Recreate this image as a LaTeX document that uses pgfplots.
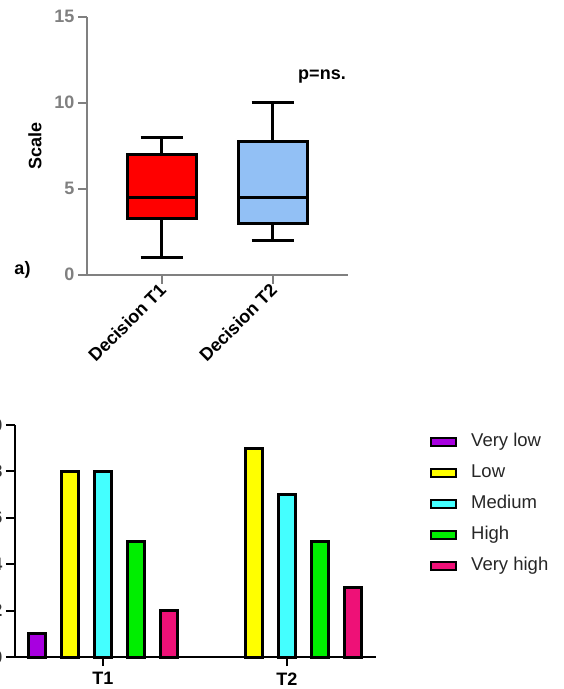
\documentclass[border=0pt]{standalone}
\usepackage{pgfplots}
\pgfplotsset{compat=1.18}
\usepgfplotslibrary{statistics}
\usepackage{fontspec}
\setmainfont{Liberation Sans}
\definecolor{axgray}{RGB}{128,128,128}
\definecolor{boxred}{RGB}{255,0,0}
\definecolor{boxblue}{RGB}{146,192,245}
\definecolor{cpurple}{RGB}{168,0,224}
\definecolor{cyellow}{RGB}{255,255,0}
\definecolor{ccyan}{RGB}{68,255,255}
\definecolor{cgreen}{RGB}{0,238,0}
\definecolor{cpink}{RGB}{238,17,119}
\newcommand{\bfs}{\fontsize{18}{21}\selectfont\bfseries}
\pgfplotsset{
  mybar/.style={ybar, bar width=0.094, draw=black, line width=3pt, fill=#1,
    legend image code/.code={\draw[##1,/tikz/.cd,line width=2pt] (0pt,1pt) rectangle (25pt,9pt);}},
}
\begin{document}
\begin{tikzpicture}[x=1pt,y=1pt]
% ---------- top: boxplot ----------
\begin{axis}[at={(87pt,414.3pt)}, anchor=south west, scale only axis,
  width=261pt, height=258pt,
  xmin=0.327, xmax=2.678, ymin=0, ymax=15,
  axis lines=left, axis line style={-, draw=axgray, line width=2pt},
  ytick={0,5,10,15}, xtick={1,2}, xticklabels={Decision T1, Decision T2},
  tick align=outside, major tick length=9pt,
  tick style={draw=axgray, line width=2pt},
  /pgf/number format/assume math mode=true,
  yticklabel style={font=\bfs, text=axgray},
  xticklabel style={font=\bfs, text=black, rotate=45, anchor=east, xshift=2pt, yshift=-3pt},
  ylabel={Scale},
  ylabel style={font=\bfs, at={(axis description cs:-0.199,0.5)}, anchor=center},
  boxplot/draw direction=y,
  clip=false]
\addplot[boxplot prepared={draw position=1, lower whisker=1, lower quartile=3.25,
    median=4.5, upper quartile=7, upper whisker=8, box extend=0.62, whisker extend=0.38},
  draw=black, line width=3pt, boxplot/every box/.style={fill=boxred}] coordinates {};
\addplot[boxplot prepared={draw position=2, lower whisker=2, lower quartile=3,
    median=4.5, upper quartile=7.75, upper whisker=10, box extend=0.62, whisker extend=0.38},
  draw=black, line width=3pt, boxplot/every box/.style={fill=boxblue}] coordinates {};
\end{axis}
\node[font=\bfs] at (22.5pt,419pt) {a)};
\node[font=\bfs] at (322pt,612pt) {p=ns.};
% ---------- bottom: bar chart ----------
\begin{axis}[at={(15pt,32pt)}, anchor=south west, scale only axis,
  width=361pt, height=232pt,
  xmin=-0.478, xmax=1.484, ymin=0, ymax=10,
  axis lines=left, axis line style={-, black, line width=2pt},
  ytick={0,2,4,6,8,10}, xtick={0,1}, xticklabels={T1,T2},
  tick align=outside, major tick length=9pt,
  tick style={black, line width=2pt},
  /pgf/number format/assume math mode=true,
  yticklabel style={font=\bfs, text=black!80},
  xticklabel style={font=\bfs, yshift=-3pt},
  legend style={draw=none, fill=none, inner sep=0pt,
    at={(axis description cs:1.1496,0.9625)}, anchor=north west,
    nodes={inner sep=0pt, text height=13pt, text depth=4pt, anchor=base west,
      font=\fontsize{18.5}{21}\selectfont, text=black!85},
    column sep=14pt, row sep=14pt},
  legend cell align=left,
  clip=false]
\addplot[mybar=cpurple, bar shift=-0.358] coordinates {(0,1)};
\addplot[mybar=cyellow, bar shift=-0.179] coordinates {(0,8) (1,9)};
\addplot[mybar=ccyan, bar shift=0] coordinates {(0,8) (1,7)};
\addplot[mybar=cgreen, bar shift=0.179] coordinates {(0,5) (1,5)};
\addplot[mybar=cpink, bar shift=0.358] coordinates {(0,2) (1,3)};
\legend{Very low, Low, Medium, High, Very high}
\end{axis}
\pgfresetboundingbox
\useasboundingbox (0pt,0pt) rectangle (563pt,689pt);
\end{tikzpicture}
\end{document}
